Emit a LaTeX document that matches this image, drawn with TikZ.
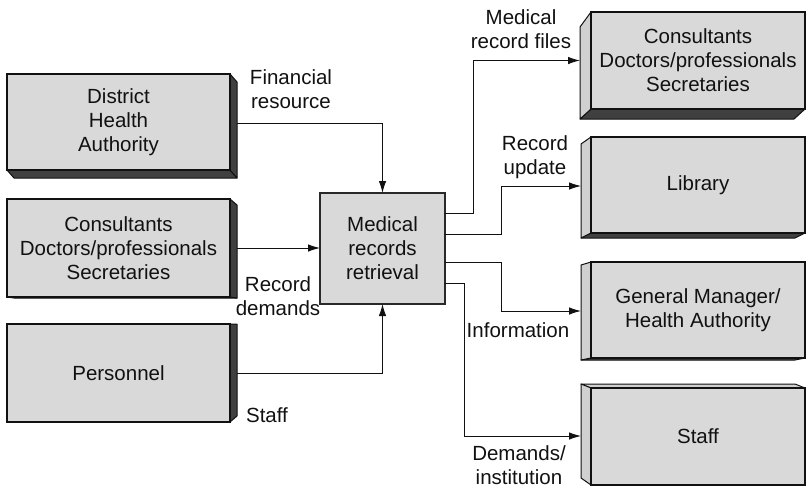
\documentclass[tikz,border=0pt]{standalone}
\usepackage{fontspec}
\setmainfont{Liberation Sans}
\usetikzlibrary{calc,arrows.meta,backgrounds}

\definecolor{frontgray}{HTML}{D9D9D9}
\definecolor{sidegray}{HTML}{D0D0D0}
\definecolor{darkface}{HTML}{404040}
\definecolor{ink}{HTML}{111111}

\tikzset{
  txt/.style={font=\fontsize{20.5}{24}\selectfont, text=ink, align=center, inner sep=0pt},
  front/.style={draw=ink, line width=1.1pt, fill=frontgray, inner sep=0pt, outer sep=0pt,
                txt, anchor=north west},
  dark/.style={draw=ink, line width=1pt, fill=darkface, line join=round},
  light/.style={draw=ink, line width=1pt, fill=sidegray, line join=round},
  flow/.style={draw=ink, line width=0.9pt, -{Latex[length=12pt,width=7.5pt]}},
}

\begin{document}
\begin{tikzpicture}[x=1pt, y=-1pt]
\useasboundingbox (0,0) rectangle (806,488);

% ---- source boxes (left column) ----
\node[front, minimum width=223pt, minimum height=96pt] (dha) at (7,74) {District\\Health\\Authority};
\node[front, minimum width=223pt, minimum height=98pt] (cds) at (7,199) {Consultants\\Doctors/professionals\\Secretaries};
\node[front, minimum width=223pt, minimum height=98pt] (pers) at (7,324) {Personnel};

% ---- central process ----
\node[front, line width=1.4pt, draw=ink!90, minimum width=125pt, minimum height=111pt] (mrr) at (320,193) {Medical\\records\\retrieval};

% ---- destination boxes (right column) ----
\node[front, minimum width=214pt, minimum height=97pt] (cons) at (591,12) {Consultants\\Doctors/professionals\\Secretaries};
\node[front, minimum width=214pt, minimum height=96pt] (lib) at (591,137) {Library};
\node[front, minimum width=214pt, minimum height=96pt] (gm) at (591,262) {General Manager/\\Health Authority};
\node[front, minimum width=214pt, minimum height=97pt] (staff) at (591,388) {Staff};

% ---- extruded faces ----
\begin{scope}[on background layer]
  % left column: right faces dark, bottom faces dark
  \path[dark] (dha.south west) -- ($(dha.south west)+(7,8)$) -- ($(dha.south east)+(7,8)$) -- (dha.south east) -- cycle;
  \path[dark] (dha.north east) -- ($(dha.north east)+(7,8)$) -- ($(dha.south east)+(7,8)$) -- (dha.south east) -- cycle;
  \path[dark] (cds.south west) -- ($(cds.south west)+(7,1)$) -- ($(cds.south east)+(7,1)$) -- (cds.south east) -- cycle;
  \path[dark] (cds.north east) -- ($(cds.north east)+(7,6)$) -- ($(cds.south east)+(7,1)$) -- (cds.south east) -- cycle;
  \path[dark] (pers.north east) -- ($(pers.north east)+(7,0)$) -- ($(pers.south east)+(7,-6)$) -- (pers.south east) -- cycle;

  % right column: left faces light, bottom faces dark, top face light
  \path[dark] (cons.south west) -- ($(cons.south west)+(-11,10)$) -- ($(cons.south east)+(-11,10)$) -- (cons.south east) -- cycle;
  \path[light] (cons.north west) -- ($(cons.north west)+(-11,15)$) -- ($(cons.south west)+(-11,10)$) -- (cons.south west) -- cycle;
  \path[dark] (lib.south west) -- ($(lib.south west)+(-10,5)$) -- ($(lib.south east)+(-10,5)$) -- (lib.south east) -- cycle;
  \path[light] (lib.north west) -- ($(lib.north west)+(-10,7)$) -- ($(lib.south west)+(-10,5)$) -- (lib.south west) -- cycle;
  \path[dark] (gm.south west) -- ($(gm.south west)+(-10,2)$) -- ($(gm.south east)+(-10,2)$) -- (gm.south east) -- cycle;
  \path[light] (gm.north west) -- ($(gm.north west)+(-10,3)$) -- ($(gm.south west)+(-10,2)$) -- (gm.south west) -- cycle;
  \path[light] (staff.north west) -- ($(staff.north west)+(-10,-4)$) -- ($(staff.north east)+(-10,-4)$) -- (staff.north east) -- cycle;
  \path[light] (staff.north west) -- ($(staff.north west)+(-10,-4)$) -- ($(staff.south west)+(-10,-7)$) -- (staff.south west) -- cycle;
\end{scope}

% ---- inputs ----
\draw[flow] ($(dha.east)+(7,1)$) -| (mrr.north);
\draw[flow] ($(cds.east)+(7,0)$) -- (mrr.west |- cds.east);
\draw[flow] ($(pers.east)+(7,0)$) -| (mrr.south);

% ---- outputs ----
\draw[flow] ($(mrr.east)+(0,-35.5)$) -- ++(28,0) |- ($(cons.west)+(-11,0)$);
\draw[flow] ($(mrr.east)+(0,-14.5)$) -- ++(56,0) |- ($(lib.west)+(-10,1)$);
\draw[flow] ($(mrr.east)+(0,13.5)$) -- ++(56,0) |- ($(gm.west)+(-10,1)$);
\draw[flow] ($(mrr.east)+(0,34.5)$) -- ++(19,0) |- ($(staff.west)+(-10,-0.5)$);

% ---- flow labels ----
\node[txt] (lfin) at (291,89.5) {Financial\\resource};
\node[txt] (lrd) at (278,296) {Record\\demands};
\node[txt] (lstaff) at (267,415.5) {Staff};
\node[txt] (lmrf) at (521,29.5) {Medical\\record files};
\node[txt] (lru) at (535,157) {Record\\update};
\node[txt] (linfo) at (518,330) {Information};
\node[txt] (ldem) at (519,465) {Demands/\\institution};
\end{tikzpicture}
\end{document}
